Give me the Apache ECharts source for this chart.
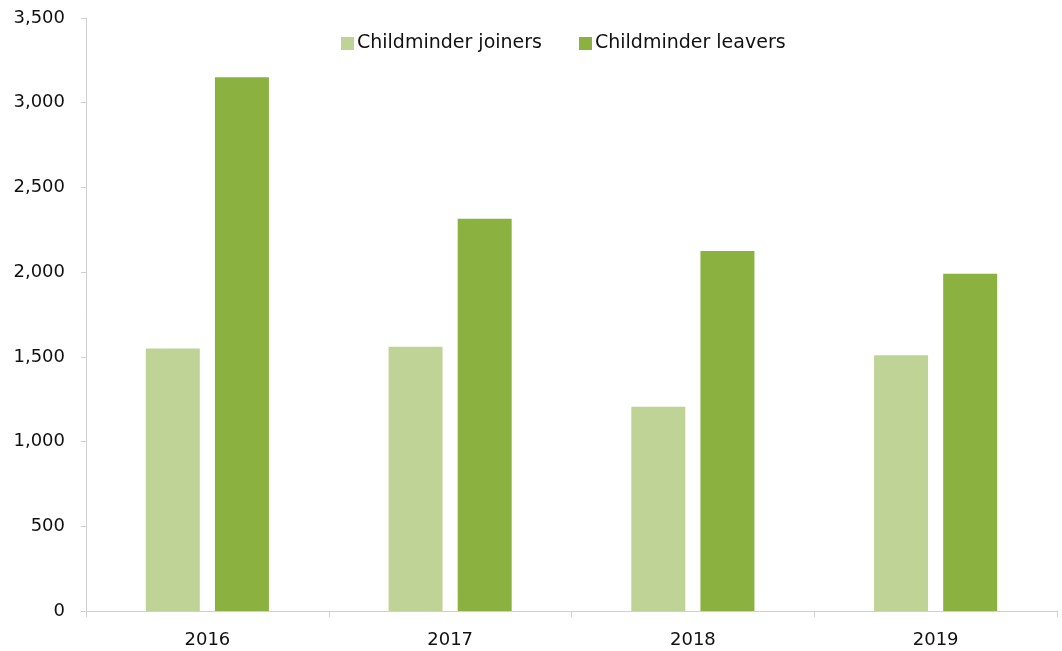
<!DOCTYPE html>
<html>
<head>
<meta charset="utf-8">
<script src="https://cdn.jsdelivr.net/npm/echarts@6/dist/echarts.min.js"></script>
<style>
html,body{margin:0;padding:0;background:#fff;}
#chart{width:1062px;height:651px;}
</style>
</head>
<body>
<div id="chart"></div>
<script>
var categories = ['2016', '2017', '2018', '2019'];
var joiners = [1550, 1560, 1205, 1510];
var leavers = [3150, 2315, 2125, 1990];
var seriesNames = ['Childminder joiners', 'Childminder leavers'];

var chart = echarts.init(document.getElementById('chart'));
var font = 'DejaVu Sans';
chart.setOption({
  animation: false,
  backgroundColor: '#ffffff',
  legend: {
    top: 29,
    left: 336,
    itemWidth: 13,
    itemHeight: 13,
    itemGap: 37,
    icon: 'rect',
    textStyle: { fontFamily: font, fontSize: 19, color: '#111111', padding: [0,0,0,-2] },
    data: seriesNames
  },
  grid: { left: 86, right: 5, top: 18, bottom: 40, containLabel: false },
  xAxis: {
    type: 'category',
    data: categories,
    axisLine: { lineStyle: { color: '#d0d0d0', width: 1 } },
    axisTick: { show: true, length: 6, lineStyle: { color: '#d0d0d0' } },
    axisLabel: { fontFamily: font, fontSize: 18, color: '#111111', margin: 20 }
  },
  yAxis: {
    type: 'value',
    min: 0, max: 3500, interval: 500,
    axisLine: { show: true, lineStyle: { color: '#d0d0d0', width: 1 } },
    axisTick: { show: true, length: 5, lineStyle: { color: '#d0d0d0' } },
    splitLine: { show: false },
    axisLabel: {
      fontFamily: font, fontSize: 18, color: '#111111', margin: 21,
      formatter: function (v) { return v.toLocaleString('en-US'); }
    }
  },
  series: [
    { name: seriesNames[0], type: 'bar', data: joiners, barWidth: 54, barGap: '28%',
      itemStyle: { color: '#BFD397' } },
    { name: seriesNames[1], type: 'bar', data: leavers, barWidth: 54,
      itemStyle: { color: '#8BB240' } }
  ]
});
</script>
</body>
</html>
